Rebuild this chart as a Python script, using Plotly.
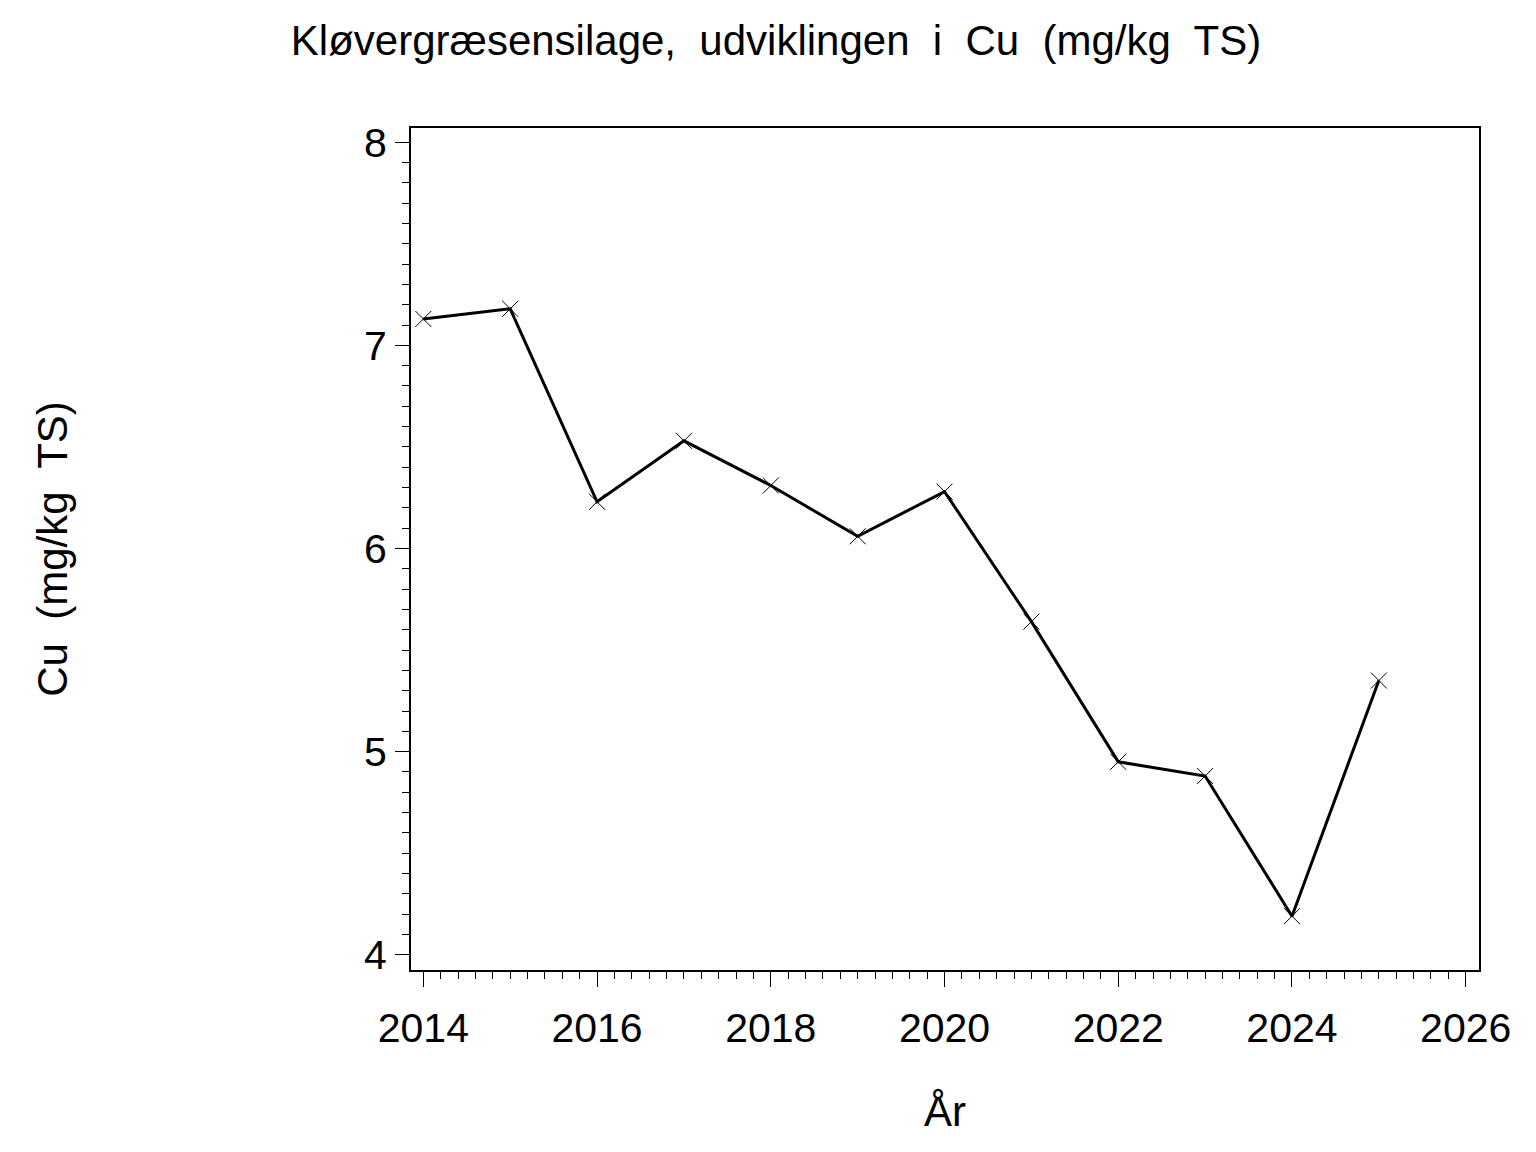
import plotly.graph_objects as go

years = [2014, 2015, 2016, 2017, 2018, 2019, 2020, 2021, 2022, 2023, 2024, 2025]
cu = [7.13, 7.18, 6.23, 6.53, 6.31, 6.06, 6.28, 5.64, 4.95, 4.88, 4.19, 5.35]

title_text = "Kløvergræsensilage,\u00a0 udviklingen\u00a0 i\u00a0 Cu\u00a0 (mg/kg\u00a0 TS)"
x_title = "År"
y_title = "Cu\u00a0 (mg/kg\u00a0 TS)"

font_family = "Liberation Sans, Arial, sans-serif"

fig = go.Figure()
fig.add_trace(go.Scatter(
    x=years, y=cu, mode="lines+markers",
    line=dict(color="black", width=3),
    marker=dict(symbol="x-thin-open", size=16, color="black", line=dict(color="black", width=1)),
    showlegend=False,
))

fig.update_layout(
    width=1536, height=1152,
    paper_bgcolor="white", plot_bgcolor="white",
    margin=dict(l=403, r=65, t=120, b=190),
    font=dict(family=font_family, color="black"),
    title=dict(text=title_text, x=0.5, xanchor="center", y=1 - 32 / 1152, yanchor="middle",
               font=dict(size=42, family=font_family, color="black")),
    xaxis=dict(
        range=[2013.858, 2026.153], tickmode="linear", tick0=2014, dtick=2,
        ticks="outside", ticklen=15, tickwidth=1, tickcolor="black",
        showline=True, linecolor="black", linewidth=2, mirror=True,
        showgrid=False, zeroline=False, ticklabelstandoff=6,
        tickfont=dict(size=41, family=font_family, color="black"),
        minor=dict(dtick=0.2, tick0=2014, ticks="outside", ticklen=7, tickwidth=1, tickcolor="black", showgrid=False),
        title=dict(text=x_title, font=dict(size=42, family=font_family, color="black"), standoff=46),
    ),
    yaxis=dict(
        range=[3.925, 8.07], tickmode="linear", tick0=4, dtick=1,
        ticks="outside", ticklen=14, tickwidth=1, tickcolor="black",
        showline=True, linecolor="black", linewidth=2, mirror=True,
        showgrid=False, zeroline=False,
        tickfont=dict(size=41, family=font_family, color="black"),
        minor=dict(dtick=0.1, tick0=4, ticks="outside", ticklen=7, tickwidth=1, tickcolor="black", showgrid=False),
        title=dict(text=y_title, font=dict(size=42, family=font_family, color="black"), standoff=283),
    ),
)

fig.write_html("out.html")
